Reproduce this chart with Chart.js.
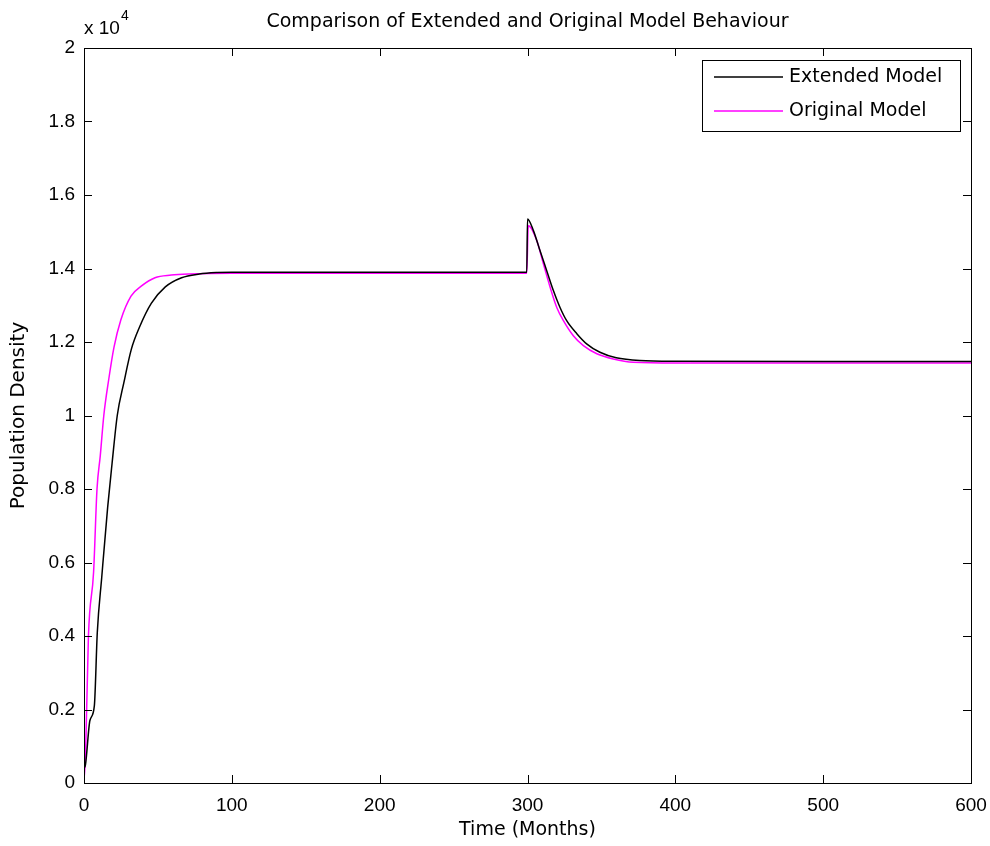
<!DOCTYPE html>
<html>
<head>
<meta charset="utf-8">
<script src="https://cdn.jsdelivr.net/npm/chart.js@4.4.0/dist/chart.umd.min.js"></script>
<style>
  html, body { margin: 0; padding: 0; background: #fff; }
  #wrap { width: 990px; height: 846px; }
</style>
</head>
<body>
<div id="wrap"><canvas id="myChart" width="990" height="846"></canvas></div>
<script>
// values (population in absolute units)
const chartTitle = 'Comparison of Extended and Original Model Behaviour';
const seriesNames = ['Extended Model', 'Original Model'];

const extTime = [0, 1, 4, 7, 9, 12, 16, 19, 22.5, 27, 32, 37.5, 45.5, 55, 66, 78, 90, 100, 200, 299.5,
                 300, 304, 308.5, 313, 317.5, 322, 326.5, 333.5, 340, 349, 360, 376, 400, 500, 600];
const extPop = [400, 500, 1700, 2100, 4100, 5600, 7500, 8700, 10000, 10900, 11800, 12400, 13050, 13500, 13750, 13850, 13890, 13900, 13900, 13900,
                15350, 15030, 14480, 13940, 13400, 12940, 12580, 12220, 11950, 11720, 11570, 11495, 11475, 11470, 11470];

const origTime = [0, 1, 3, 6.5, 8.8, 11, 13.4, 16.8, 20.3, 24.9, 31.8, 38.7, 48, 59, 71, 100, 200, 299.5,
                  300.5, 306.3, 310.8, 315.3, 319.8, 324.3, 331, 337.8, 346.9, 358, 371.6, 400, 500, 600];
const origPop = [100, 700, 4000, 5750, 8000, 8900, 10000, 11000, 11860, 12600, 13250, 13520, 13750, 13820, 13850, 13870, 13870, 13870,
                 15160, 14755, 14120, 13490, 12940, 12580, 12170, 11900, 11680, 11540, 11450, 11430, 11430, 11430];

const xTicks = [0, 100, 200, 300, 400, 500, 600];
const yTickLabels = ['0', '0.2', '0.4', '0.6', '0.8', '1', '1.2', '1.4', '1.6', '1.8', '2'];

const TICKFONT = "'Liberation Sans', Arial, sans-serif";
const FONT = "'DejaVu Sans', sans-serif";

const toPoints = (xs, ys) => xs.map((x, i) => ({ x: x, y: ys[i] }));

// matlab style box: inward ticks on all four sides, legend inside, x10^4 label
const matlabBox = {
    id: 'matlabBox',
    afterDraw(chart) {
        const ctx = chart.ctx;
        const a = chart.chartArea;
        const xs = chart.scales.x;
        const ys = chart.scales.y;
        ctx.save();
        ctx.strokeStyle = '#000';
        ctx.lineWidth = 1;
        ctx.strokeRect(a.left + 0.5, a.top + 0.5, a.right - a.left, a.bottom - a.top);
        const len = 8;
        ctx.beginPath();
        xs.ticks.forEach(t => {
            const px = Math.round(xs.getPixelForValue(t.value)) + 0.5;
            ctx.moveTo(px, a.bottom); ctx.lineTo(px, a.bottom - len);
            ctx.moveTo(px, a.top); ctx.lineTo(px, a.top + len);
        });
        ys.ticks.forEach(t => {
            const py = Math.round(ys.getPixelForValue(t.value)) + 0.5;
            ctx.moveTo(a.left, py); ctx.lineTo(a.left + len, py);
            ctx.moveTo(a.right, py); ctx.lineTo(a.right - len, py);
        });
        ctx.stroke();

        // title
        ctx.fillStyle = '#000';
        ctx.font = '19px ' + FONT;
        ctx.textAlign = 'center';
        ctx.textBaseline = 'middle';
        ctx.fillText(chartTitle, (a.left + a.right) / 2, 22);

        // exponent label
        ctx.textAlign = 'left';
        ctx.font = '19px ' + TICKFONT;
        ctx.fillText('x 10', a.left, 29);
        ctx.font = '14px ' + TICKFONT;
        ctx.fillText('4', a.left + 37, 16);

        // legend
        const lx = 702, ly = 60, lw = 258, lh = 71;
        ctx.fillStyle = '#fff';
        ctx.fillRect(lx, ly, lw, lh);
        ctx.strokeStyle = '#000';
        ctx.strokeRect(lx + 0.5, ly + 0.5, lw, lh);
        chart.data.datasets.forEach((ds, i) => {
            const yy = ly + 17 + i * 34;
            ctx.strokeStyle = ds.borderColor;
            ctx.lineWidth = 1.5;
            ctx.beginPath();
            ctx.moveTo(714, yy); ctx.lineTo(783, yy);
            ctx.stroke();
            ctx.fillStyle = '#000';
            ctx.font = '19px ' + FONT;
            ctx.textBaseline = 'middle';
            ctx.fillText(ds.label, 789, yy);
        });
        ctx.restore();
    }
};

const ctx = document.getElementById('myChart').getContext('2d');
new Chart(ctx, {
    type: 'line',
    data: {
        datasets: [{
            label: seriesNames[0],
            data: toPoints(extTime, extPop),
            borderColor: '#000000',
            borderWidth: 1.5,
            pointRadius: 0,
            cubicInterpolationMode: 'monotone',
            fill: false
        }, {
            label: seriesNames[1],
            data: toPoints(origTime, origPop),
            borderColor: '#ff00ff',
            borderWidth: 1.5,
            pointRadius: 0,
            cubicInterpolationMode: 'monotone',
            fill: false
        }]
    },
    options: {
        responsive: false,
        animation: false,
        layout: { padding: { top: 48, right: 19, left: 0, bottom: 0 } },
        plugins: {
            legend: { display: false },
            title: { display: false },
            tooltip: { enabled: false }
        },
        scales: {
            x: {
                type: 'linear',
                min: 0,
                max: 600,
                afterBuildTicks: s => { s.ticks = xTicks.map(v => ({ value: v })); },
                grid: { display: false, drawTicks: false },
                border: { display: false },
                ticks: { color: '#000', font: { family: TICKFONT, size: 19 }, padding: 11, maxRotation: 0 },
                title: { display: true, text: 'Time (Months)', color: '#000', font: { family: FONT, size: 19 }, padding: { top: 2, bottom: 5 } },
                afterFit: s => { s.height = 63; s.paddingRight = 0; }
            },
            y: {
                min: 0,
                max: 20000,
                afterBuildTicks: s => { s.ticks = yTickLabels.map((l, i) => ({ value: i * 2000 })); },
                grid: { display: false, drawTicks: false },
                border: { display: false },
                ticks: {
                    color: '#000',
                    font: { family: TICKFONT, size: 19 },
                    padding: 9,
                    callback: (v, i) => yTickLabels[i]
                },
                title: { display: true, text: 'Population Density', color: '#000', font: { family: FONT, size: 20 }, padding: { top: 7, bottom: 4 } },
                afterFit: s => { s.width = 84; }
            }
        }
    },
    plugins: [matlabBox]
});
</script>
</body>
</html>
